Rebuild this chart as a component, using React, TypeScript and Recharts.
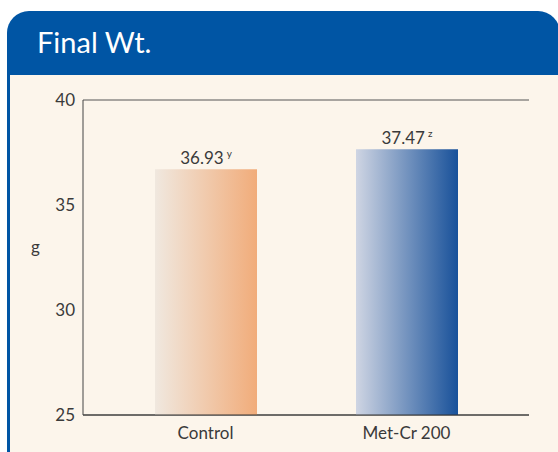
import React from "react";
import { BarChart, Bar, XAxis, YAxis, CartesianGrid, Cell, LabelList } from "recharts";

// values (bar heights), labels as printed
const categories = ["Control", "Met-Cr 200"];
const finalWt = [36.7, 37.65];
const valueLabels = ["36.93", "37.47"];
const superscripts = ["y", "z"];
const yTicks = [25, 30, 35, 40];

const barGradients = [
  { id: "gradControl", from: "#F0E8DF", to: "#F1AC7A" },
  { id: "gradMetCr", from: "#CFD5E3", to: "#18519A" },
];

const data = categories.map((name, i) => ({
  name,
  value: finalWt[i],
  label: valueLabels[i],
  sup: superscripts[i],
}));

const FONT = "Lato, 'Noto Sans', sans-serif";
const BLUE = "#0055A4";
const CREAM = "#FCF5EB";

const ValueLabel = (props: any) => {
  const { x, y, width, index } = props;
  const d = data[index];
  if (!d) return null;
  return (
    <text
      x={x + width / 2}
      y={y - 5}
      textAnchor="middle"
      fill="#3a3a3a"
      fontSize={17}
      fontFamily={FONT}
    >
      {d.label}
      <tspan fontSize={10} dx={3} dy={-7}>
        {d.sup}
      </tspan>
    </text>
  );
};

export default function App() {
  return (
    <div
      style={{
        position: "fixed",
        left: 0,
        top: 0,
        width: 558,
        height: 452,
        background: "#fff",
        overflow: "hidden",
        fontFamily: FONT,
      }}
    >
      <div
        style={{
          position: "absolute",
          left: 7,
          top: 11,
          width: 553,
          height: 460,
          background: BLUE,
          borderRadius: "22px 22px 0 0",
        }}
      >
        <div
          style={{
            position: "absolute",
            left: 30,
            top: 13,
            color: "#fff",
            fontSize: 29,
            lineHeight: "36px",
          }}
        >
          Final Wt.
        </div>
        <div
          style={{
            position: "absolute",
            left: 3,
            top: 64,
            right: 0,
            bottom: 0,
            background: CREAM,
          }}
        />
      </div>
      <div style={{ position: "absolute", left: 0, top: 0 }}>
        <BarChart
          width={558}
          height={452}
          data={data}
          margin={{ top: 100, right: 29, bottom: 0, left: 0 }}
          barSize={102}
        >
          <defs>
            {barGradients.map((g) => (
              <linearGradient key={g.id} id={g.id} x1="0" y1="0" x2="1" y2="0">
                <stop offset="0%" stopColor={g.from} />
                <stop offset="100%" stopColor={g.to} />
              </linearGradient>
            ))}
          </defs>
          <CartesianGrid vertical={false} stroke="#555" strokeWidth={1} />
          <XAxis
            dataKey="name"
            height={37}
            padding={{ left: 22, right: 22 }}
            tickLine={false}
            tickMargin={6}
            axisLine={{ stroke: "#333" }}
            tick={{ fontSize: 17, fill: "#3a3a3a", fontFamily: FONT }}
          />
          <YAxis
            yAxisId="left"
            width={83}
            domain={[25, 40]}
            ticks={yTicks}
            tickLine={false}
            axisLine={{ stroke: "#444" }}
            tick={{ fontSize: 17, fill: "#3a3a3a", fontFamily: FONT }}
            label={{
              value: "g",
              position: "insideLeft",
              offset: 31,
              dy: -11,
              fontSize: 17,
              fill: "#3a3a3a",
              fontFamily: FONT,
            }}
          />
          <YAxis
            yAxisId="right"
            orientation="right"
            width={0}
            domain={[25, 40]}
            ticks={yTicks}
            tick={false}
            tickLine={false}
            axisLine={{ stroke: "#444" }}
          />
          <Bar dataKey="value" yAxisId="left" isAnimationActive={false}>
            {data.map((d, i) => (
              <Cell key={d.name} fill={`url(#${barGradients[i].id})`} />
            ))}
            <LabelList dataKey="label" content={<ValueLabel />} />
          </Bar>
        </BarChart>
      </div>
    </div>
  );
}
